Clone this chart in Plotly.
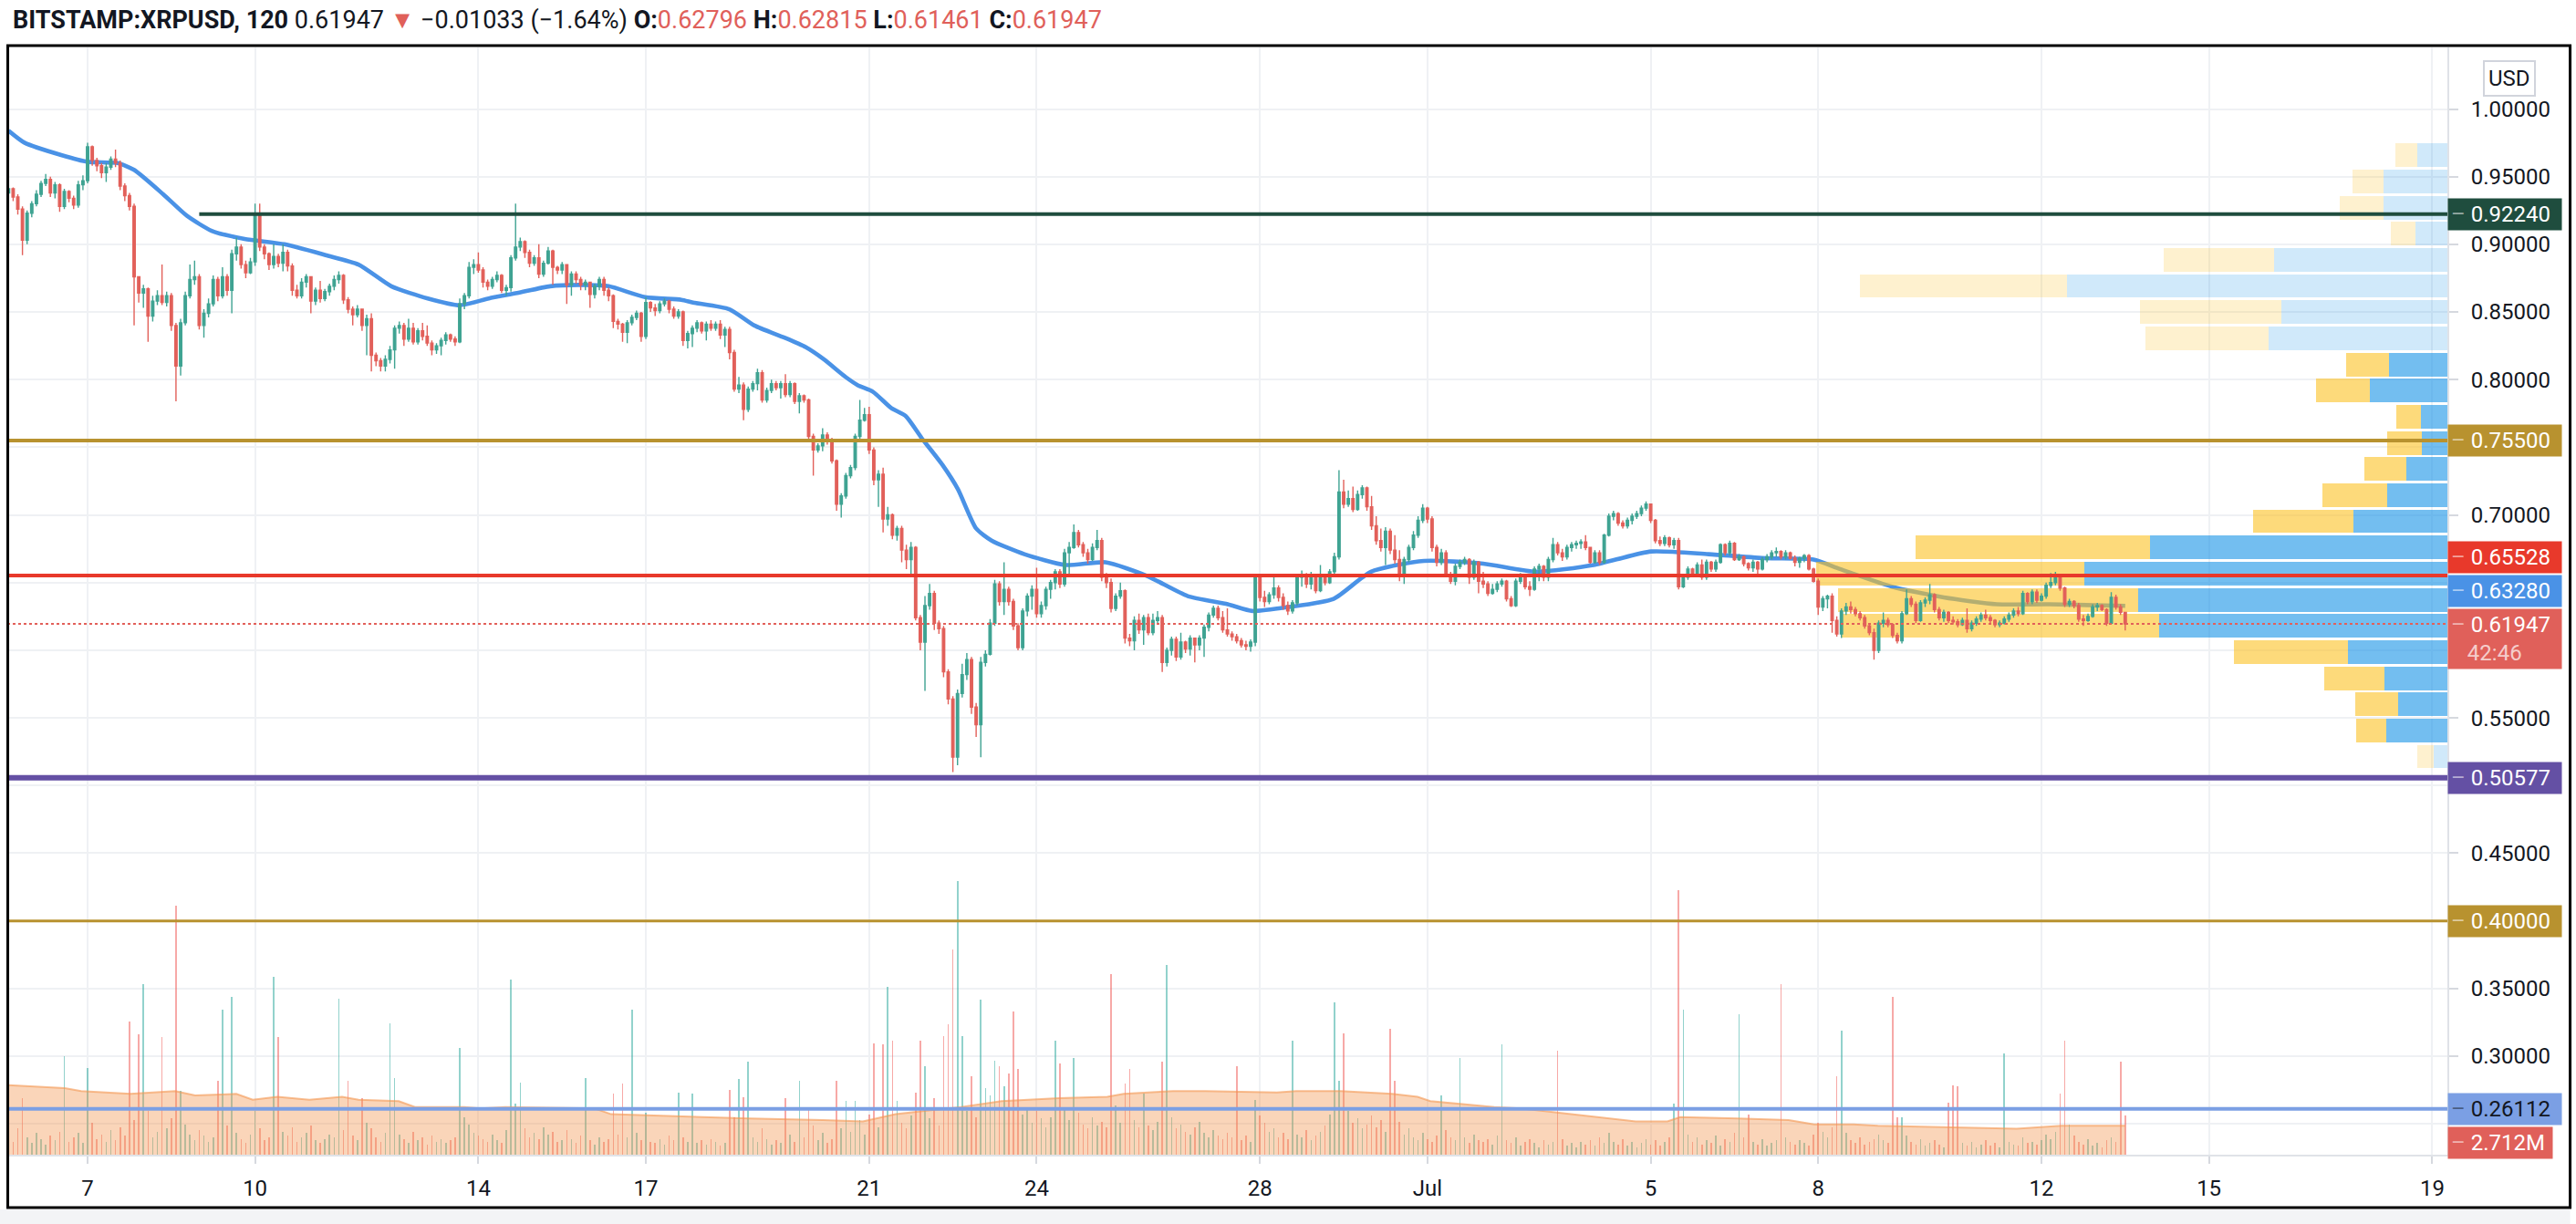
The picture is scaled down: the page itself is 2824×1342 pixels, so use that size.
import plotly.graph_objects as go
import pandas as pd

# ---------------- DATA ----------------
# 2-hour candles BITSTAMP:XRPUSD, first candle 2021-06-05 14:00 (prices in thousandths of USD)
first_open = 938
close_k = [
941,935,926,903,923,930,937,945,948,938,944,928,
939,934,929,944,947,972,962,958,953,957,963,960,
943,936,928,876,864,867,847,858,862,857,862,840,
810,842,862,874,876,840,849,856,874,862,876,866,
893,898,885,879,887,923,898,893,885,891,886,894,
884,866,862,872,876,858,866,860,865,869,874,877,
859,852,848,852,840,845,818,814,810,815,822,838,
840,830,838,828,836,832,827,822,825,829,833,830,
828,856,862,883,885,881,872,869,874,877,866,868,
890,898,902,894,886,890,878,886,895,883,881,885,
870,878,874,870,872,863,869,874,866,862,843,841,
835,842,846,849,832,857,853,851,856,858,852,847,
850,829,834,838,842,836,841,838,841,833,837,820,
793,796,778,793,797,805,785,792,797,794,797,789,
797,784,788,785,758,748,751,759,755,740,708,714,
729,735,758,770,774,748,726,730,697,700,685,690,
674,667,676,624,606,633,642,620,616,584,564,521,
568,582,593,558,545,591,597,620,649,636,645,636,
618,602,629,640,645,627,633,645,650,658,649,672,
676,687,678,672,667,676,681,654,650,631,640,644,
609,607,622,615,624,613,622,624,591,600,608,595,
606,601,609,604,609,617,626,631,624,615,612,610,
607,604,603,606,654,639,636,641,646,639,633,629,
635,654,656,649,654,644,654,650,658,669,717,708,
712,704,715,720,706,692,681,676,688,674,667,656,
667,676,685,696,705,697,676,665,672,656,651,662,
665,667,654,665,651,649,642,645,649,651,638,633,
651,655,647,645,660,662,654,667,678,672,669,676,
678,679,680,676,665,672,665,685,699,701,694,692,
696,699,701,705,708,696,681,679,683,678,681,647,
654,660,656,663,654,665,660,665,678,672,679,667,
669,664,661,665,660,667,669,672,673,669,672,668,
665,668,670,660,651,632,638,640,622,612,629,632,
630,627,624,618,613,600,620,622,619,611,607,627,
638,634,622,635,637,641,630,624,628,622,621,619,
622,616,620,623,626,624,622,619,620,623,626,629,
627,642,636,643,637,640,648,650,654,646,634,636,
633,623,622,625,632,633,630,620,639,632,628,619.47,
]
high_k = [
944,942,937,928,925,932,940,947,952,950,946,945,
941,940,936,947,951,975,973,964,960,960,965,970,
962,945,938,930,876,870,868,862,866,885,865,864,
842,845,865,885,888,878,852,860,877,876,883,878,
896,905,900,888,890,930,930,900,894,900,893,900,
896,886,870,875,878,874,868,873,867,871,877,880,
878,861,854,855,852,848,849,820,816,818,825,840,
843,842,845,842,838,842,840,829,827,831,835,834,
832,860,864,887,889,894,883,874,876,880,878,870,
892,930,905,903,896,892,900,888,898,896,884,887,
884,880,880,876,874,872,871,876,876,868,863,845,
842,844,848,851,850,861,858,856,858,860,859,854,
852,851,836,840,844,843,843,844,843,844,839,839,
822,802,798,795,799,808,807,794,800,799,799,804,
799,798,790,789,786,760,753,764,761,757,741,716,
731,737,760,785,779,780,750,733,735,706,701,692,
692,678,680,677,626,640,649,644,622,618,586,566,
571,590,598,595,561,595,600,623,652,651,665,647,
638,620,631,642,648,661,636,647,652,660,660,675,
680,693,689,680,675,679,689,683,657,653,642,650,
645,612,625,627,626,627,627,629,626,602,610,610,
613,607,611,609,611,619,628,633,633,629,631,614,
612,609,607,608,656,656,644,643,656,648,642,636,
637,656,659,657,658,656,663,655,660,672,733,726,
718,721,718,722,721,714,699,690,691,690,685,674,
669,678,688,699,708,706,699,678,675,674,658,664,
667,669,668,667,666,658,651,649,651,653,652,640,
653,657,656,651,662,664,663,669,683,680,675,678,
680,681,682,685,676,674,674,686,701,703,702,696,
698,701,703,707,710,708,697,684,685,684,683,683,
656,662,661,665,667,667,666,667,679,679,681,680,
671,670,665,667,666,669,671,674,676,674,674,673,
670,669,671,671,661,653,640,641,642,625,631,635,
636,632,629,626,620,616,622,628,624,620,613,629,
645,640,636,637,639,649,642,632,630,629,625,623,
624,631,622,625,628,630,626,623,622,625,628,631,
632,644,643,645,645,642,650,657,658,655,647,638,
637,635,626,627,634,635,634,631,643,641,634,628.15,
]
low_k = [
934,932,922,892,900,920,928,935,943,935,934,924,
926,931,926,927,940,945,958,954,949,946,955,957,
940,932,925,840,857,853,828,843,855,855,854,836,
784,803,840,860,870,837,831,846,854,858,860,862,
849,888,882,875,878,884,895,889,881,882,883,880,
880,862,860,860,868,849,855,857,858,862,866,871,
856,849,840,846,836,818,806,810,806,806,812,808,
834,825,828,826,826,829,825,818,819,818,826,828,
825,827,852,860,878,879,868,866,867,872,864,862,
865,888,895,890,883,884,875,876,885,870,878,878,
856,862,871,866,866,853,860,866,862,858,838,837,
828,827,840,844,828,830,850,847,849,854,849,845,
845,825,823,824,835,834,829,836,836,830,824,815,
791,790,770,776,791,792,783,783,790,792,786,787,
787,782,775,783,756,729,746,747,752,738,703,698,
712,727,733,756,769,745,722,706,687,692,682,681,
665,660,655,622,600,570,630,615,612,580,560,510,
515,565,578,553,536,521,588,596,618,633,626,633,
615,600,600,625,630,624,624,630,638,645,646,647,
656,675,676,669,664,666,674,651,646,628,629,638,
605,603,600,612,604,611,611,620,584,588,596,592,
593,598,596,591,600,595,614,624,622,613,610,607,
605,602,600,599,603,636,632,634,638,636,630,626,
627,633,647,646,645,642,643,648,649,655,667,705,
706,702,703,712,703,689,678,673,663,671,664,651,
649,665,674,683,694,694,673,662,663,654,649,648,
660,663,649,652,642,646,640,641,643,647,636,632,
632,649,645,640,644,651,651,651,665,670,666,667,
673,675,675,674,664,664,663,664,684,696,692,690,
690,693,697,699,703,694,679,677,677,676,675,645,
646,652,654,655,652,652,658,658,664,670,670,666,
666,662,659,658,654,659,665,667,669,667,667,667,
662,661,665,659,650,626,629,631,613,610,609,626,
627,625,622,616,611,593,598,617,617,609,605,605,
626,632,620,621,632,634,628,622,621,620,619,617,
618,613,614,618,621,622,620,617,617,619,621,624,
625,626,634,634,635,636,638,646,648,644,632,632,
631,621,618,621,624,629,629,618,619,630,626,614.61,
]
# volume per candle, tenths of a million XRP
vol_tenths_m = [
14,9,18,39,12,8,15,11,7,13,10,16,
68,9,12,15,8,60,22,11,14,9,17,10,
19,13,92,24,83,118,30,12,16,81,18,25,
172,44,21,14,10,17,13,9,12,51,100,20,
109,15,11,8,14,30,18,10,12,123,81,16,
13,19,9,12,15,20,10,8,11,14,12,108,
17,51,13,10,39,22,18,12,9,15,91,53,
14,11,8,16,10,12,7,13,9,11,8,10,
12,74,26,21,15,13,11,9,14,10,8,17,
121,35,50,18,12,15,11,19,14,16,9,10,
17,11,8,13,53,10,7,12,9,11,42,14,
49,12,100,15,10,29,9,8,11,7,13,10,
43,12,9,42,8,10,7,11,9,6,8,45,
26,52,40,64,12,9,18,11,7,10,8,39,
14,9,51,12,33,20,10,15,8,11,51,18,
37,16,37,24,14,28,77,19,76,116,79,37,
22,18,27,43,79,61,25,39,20,82,90,142,
189,82,30,54,26,107,46,41,65,61,47,56,
99,59,28,33,22,30,25,19,26,79,63,31,
24,67,29,21,18,26,20,23,19,125,34,22,
49,59,24,19,42,20,17,23,64,131,26,18,
21,16,14,19,23,15,12,17,13,11,15,12,
61,10,13,9,38,27,22,16,18,12,15,11,
79,14,12,17,10,13,16,20,28,105,51,84,
30,22,25,18,21,27,19,24,16,87,51,23,
14,18,12,10,15,11,9,13,41,17,12,10,
67,12,8,14,10,9,11,7,13,76,10,8,
12,6,9,11,8,5,10,7,9,72,11,6,
8,5,9,7,10,6,12,8,15,9,7,11,
6,9,5,8,11,7,10,6,9,12,35,183,
100,14,9,12,7,10,8,13,6,11,9,15,
97,12,28,9,7,11,6,8,10,118,12,9,
7,10,8,6,14,22,16,12,19,54,86,15,
10,8,12,7,9,11,14,10,8,109,26,26,
13,9,7,11,6,8,10,7,5,36,48,47,
8,6,9,5,7,10,6,8,5,70,9,7,
6,12,8,9,7,10,14,11,16,42,79,21,
13,9,7,11,6,8,5,10,12,9,64,27,
]
# 50-period moving average of price
ma_time = ["2021-06-05 14:00","2021-06-05 21:00","2021-06-06 12:40","2021-06-07 00:00","2021-06-07 13:00",
 "2021-06-07 20:00","2021-06-08 08:30","2021-06-08 18:45","2021-06-09 05:20","2021-06-09 19:30",
 "2021-06-10 12:40","2021-06-11 06:20","2021-06-11 20:30","2021-06-12 10:35","2021-06-13 02:15",
 "2021-06-13 16:00","2021-06-14 04:30","2021-06-14 16:40","2021-06-15 06:50","2021-06-15 19:00",
 "2021-06-16 08:00","2021-06-16 23:40","2021-06-17 15:15","2021-06-17 20:15","2021-06-18 11:55",
 "2021-06-18 22:40","2021-06-19 11:35","2021-06-19 20:40","2021-06-20 04:30","2021-06-20 13:50",
 "2021-06-20 19:00","2021-06-21 01:40","2021-06-21 09:30","2021-06-21 15:45","2021-06-21 22:30",
 "2021-06-22 07:30","2021-06-22 14:10","2021-06-22 22:00","2021-06-23 04:40","2021-06-23 18:45",
 "2021-06-24 12:20","2021-06-25 05:40","2021-06-25 23:20","2021-06-26 17:00","2021-06-27 10:10",
 "2021-06-27 20:50","2021-06-28 12:30","2021-06-29 07:40","2021-06-29 23:45","2021-06-30 22:30",
 "2021-07-02 00:00","2021-07-02 22:45","2021-07-03 23:25","2021-07-05 00:10","2021-07-06 00:50",
 "2021-07-07 01:35","2021-07-07 22:00","2021-07-08 09:20","2021-07-09 07:40","2021-07-10 06:00",
 "2021-07-11 04:45","2021-07-12 03:10","2021-07-13 12:00"]
ma_val = [0.984,0.975,0.966,0.961,0.960,0.955,0.937,0.921,0.910,0.904,
 0.900,0.892,0.885,0.869,0.860,0.855,0.860,0.864,0.869,0.870,
 0.869,0.861,0.859,0.857,0.852,0.840,0.831,0.824,0.815,0.802,
 0.796,0.791,0.779,0.773,0.757,0.737,0.719,0.690,0.681,0.671,
 0.663,0.665,0.655,0.640,0.634,0.629,0.632,0.638,0.658,0.666,
 0.664,0.658,0.663,0.673,0.671,0.668,0.667,0.660,0.647,0.639,
 0.634,0.634,0.6328]
# volume moving average (millions)
vma_time = ["2021-06-05 14:00","2021-06-06 14:10","2021-06-06 21:15","2021-06-07 18:25","2021-06-08 13:40",
 "2021-06-08 22:15","2021-06-09 15:55","2021-06-09 23:00","2021-06-10 09:35","2021-06-10 23:20",
 "2021-06-11 13:25","2021-06-11 20:30","2021-06-12 13:45","2021-06-12 20:45","2021-06-13 17:55",
 "2021-06-14 01:00","2021-06-14 11:35","2021-06-16 02:00","2021-06-16 09:05","2021-06-17 20:00",
 "2021-06-18 20:20","2021-06-20 04:05","2021-06-20 21:20","2021-06-21 11:25","2021-06-22 15:40",
 "2021-06-23 08:55","2021-06-24 09:40","2021-06-25 06:25","2021-06-25 13:30","2021-06-26 10:40",
 "2021-06-27 00:25","2021-06-28 07:20","2021-06-28 15:35","2021-06-29 10:50","2021-06-30 08:45",
 "2021-06-30 19:45","2021-07-01 01:15","2021-07-01 15:00","2021-07-02 04:40","2021-07-02 16:05",
 "2021-07-03 03:05","2021-07-04 01:00","2021-07-04 17:30","2021-07-05 07:10","2021-07-05 12:40",
 "2021-07-06 13:20","2021-07-07 11:15","2021-07-07 22:15","2021-07-08 14:45","2021-07-09 01:40",
 "2021-07-10 05:30","2021-07-11 13:20","2021-07-12 08:30","2021-07-13 12:00"]
vma_val = [4.8,4.6,4.4,4.2,4.4,4.1,4.2,3.8,4.0,3.8,4.0,3.8,3.7,3.3,3.3,3.2,3.3,3.2,2.8,2.6,
 2.5,2.4,2.3,2.8,3.3,3.7,3.9,4.0,4.2,4.4,4.4,4.3,4.4,4.4,4.2,4.0,3.7,3.5,3.3,3.2,
 3.0,2.6,2.3,2.3,2.6,2.5,2.4,2.1,2.1,2.0,1.9,1.8,2.0,2.0]
# Volume profile (visible range), rows bottom -> top
vp_mid = [0.5214,0.5407,0.5600,0.5793,0.5987,0.6180,0.6373,0.6566,0.6759,0.6953,0.7146,0.7339,
          0.7532,0.7726,0.7919,0.8112,0.8305,0.8499,0.8692,0.8885,0.9078,0.9271,0.9465,0.9658]
vp_up = [3.0,13.4,10.8,13.8,21.8,63.2,67.8,79.6,65.2,20.6,13.2,9.0,5.6,5.8,17.0,12.8,
         39.2,36.4,83.4,38.0,7.0,14.0,14.0,6.6]
vp_down = [3.6,6.6,9.4,13.2,25.0,69.6,65.8,58.8,51.4,22.0,14.2,9.2,7.6,5.4,11.8,9.4,
           27.0,31.0,45.4,24.2,5.4,9.6,6.8,4.8]
vp_value_area = [False]+[True]*15+[False]*8
# horizontal levels: (price, colour, label text colour)
levels = [(0.92240, "#1f4d3e", "white"), (0.75500, "#b8922f", "white"), (0.65528, "#e8392b", "white"),
          (0.50577, "#6450a4", "white"), (0.40000, "#b8922f", "white"), (0.26112, "#7b9fe4", "#131722")]
level_width = [4, 4, 4, 6, 3, 4]
green_level_start = "2021-06-09 00:00"
last_price = 0.61947
ma_last = 0.63280
last_volume_m = 2.712
countdown = "42:46"
date_ticks = ["2021-06-07","2021-06-10","2021-06-14","2021-06-17","2021-06-21","2021-06-24","2021-06-28",
              "2021-07-01","2021-07-05","2021-07-08","2021-07-12","2021-07-15","2021-07-19"]
date_labels = ["7","10","14","17","21","24","28","Jul","5","8","12","15","19"]
price_grid = [0.25,0.30,0.35,0.40,0.45,0.50,0.55,0.60,0.65,0.70,0.75,0.80,0.85,0.90,0.95,1.00]
price_hidden = {0.25,0.40,0.50,0.60,0.65,0.75}

# ---------------- BUILD ----------------
n = len(close_k)
assert n == len(high_k) == len(low_k) == len(vol_tenths_m) == 456
times = pd.date_range("2021-06-05 14:00", periods=n, freq="2h")
close = [v / 1000 for v in close_k]
high = [v / 1000 for v in high_k]
low = [v / 1000 for v in low_k]
open_ = [first_open / 1000] + close[:-1]
vol = [v / 10 for v in vol_tenths_m]

UP = "#3fa392"
DOWN = "#e2605a"
FONT = "Roboto"
TXT = "#131722"

fig = go.Figure()
# MA (bottom layer)
fig.add_trace(go.Scatter(x=ma_time, y=ma_val, mode="lines", xaxis="x", yaxis="y",
                         line=dict(color="#4a92e6", width=4.6, shape="spline", smoothing=0.6),
                         hoverinfo="skip", showlegend=False))
# volume
vcol = ["rgba(38,166,154,0.5)" if c >= o else "rgba(239,83,80,0.5)" for o, c in zip(open_, close)]
fig.add_trace(go.Bar(x=times, y=vol, marker=dict(color=vcol, line=dict(width=0)), width=2.3e6,
                     xaxis="x", yaxis="y3", hoverinfo="skip", showlegend=False))
fig.add_trace(go.Scatter(x=vma_time, y=vma_val, mode="lines", fill="tozeroy", xaxis="x", yaxis="y3",
                         fillcolor="rgba(243,150,80,0.4)", line=dict(color="rgba(243,150,80,0.6)", width=2),
                         hoverinfo="skip", showlegend=False))
# volume profile
up_cols = ["rgba(21,146,230,0.6)" if va else "rgba(21,146,230,0.2)" for va in vp_value_area]
dn_cols = ["rgba(251,193,35,0.6)" if va else "rgba(251,193,35,0.22)" for va in vp_value_area]
fig.add_trace(go.Bar(orientation="h", y=vp_mid, x=vp_up, base=[0] * len(vp_up), width=0.0174,
                     marker=dict(color=up_cols, line=dict(width=0)), xaxis="x2", yaxis="y",
                     hoverinfo="skip", showlegend=False))
fig.add_trace(go.Bar(orientation="h", y=vp_mid, x=vp_down, base=vp_up, width=0.0174,
                     marker=dict(color=dn_cols, line=dict(width=0)), xaxis="x2", yaxis="y",
                     hoverinfo="skip", showlegend=False))
# candles
fig.add_trace(go.Candlestick(x=times, open=open_, high=high, low=low, close=close,
                             xaxis="x3", yaxis="y", whiskerwidth=0,
                             increasing=dict(line=dict(color=UP, width=1.4), fillcolor=UP),
                             decreasing=dict(line=dict(color=DOWN, width=1.4), fillcolor=DOWN),
                             hoverinfo="skip", showlegend=False))

xr = ["2021-06-05 13:29", "2021-07-19 06:30"]
shapes = []
for (p, col, _), w in zip(levels, level_width):
    if p == 0.92240:
        shapes.append(dict(type="line", xref="x", yref="y", x0=green_level_start, x1=xr[1], y0=p, y1=p,
                           line=dict(color=col, width=w)))
    else:
        shapes.append(dict(type="line", xref="paper", yref="y", x0=0, x1=1, y0=p, y1=p,
                           line=dict(color=col, width=w)))
shapes.append(dict(type="line", xref="paper", yref="y", x0=0, x1=1, y0=last_price, y1=last_price,
                   line=dict(color=DOWN, width=2, dash="dot")))
# chart frame and bottom strip
shapes.append(dict(type="rect", xref="paper", yref="paper", x0=-0.0066, x1=1.0503, y0=-0.0626, y1=-0.0494,
                   fillcolor="#f3f4f6", line=dict(width=0), layer="below"))
shapes.append(dict(type="rect", xref="paper", yref="paper", x0=0.0002, x1=1.0503, y0=-0.0478, y1=1.0017,
                   line=dict(color="black", width=3), fillcolor="rgba(0,0,0,0)"))

ann = []
red_txt = "#e0605a"
title = ("<b>BITSTAMP:XRPUSD, 120</b> 0.61947 <span style='color:%s'>▼</span> −0.01033 (−1.64%%) "
         "<b>O:</b><span style='color:%s'>0.62796</span> <b>H:</b><span style='color:%s'>0.62815</span> "
         "<b>L:</b><span style='color:%s'>0.61461</span> <b>C:</b><span style='color:%s'>0.61947</span>"
         % (red_txt, red_txt, red_txt, red_txt, red_txt))
ann.append(dict(xref="paper", yref="paper", x=0.0015, y=1.0247, xanchor="left", yanchor="middle",
                text=title, showarrow=False, font=dict(family=FONT, size=27, color=TXT)))

def box(y, text, bg, fg, yref="y", yshift=0, yanchor="middle", width=118):
    return dict(xref="paper", yref=yref, x=1, y=y, xanchor="left", yanchor=yanchor, yshift=yshift,
                text=text, showarrow=False, align="left", width=width, bgcolor=bg, borderpad=3,
                font=dict(family=FONT, size=24, color=fg))

dash = "<span style='color:rgba(255,255,255,0.55)'>–</span> "
for (p, col, fg), w in zip(levels, level_width):
    sh = 19.5 if p == 0.65528 else 0
    d = dash if fg == "white" else "<span style='color:rgba(19,23,34,0.5)'>–</span> "
    ann.append(box(p, d + "%.5f" % p, col, fg, yshift=sh))
ann.append(box(ma_last, dash + "%.5f" % ma_last, "#4a92e6", "white", yshift=16))
ann.append(box(last_price, dash + "%.5f<br>&nbsp;&nbsp;&nbsp;<span style='color:rgba(255,255,255,0.7)'>%s</span>"
               % (last_price, countdown), "#e0605a", "white", yanchor="top", yshift=17))
ann.append(box(last_volume_m, dash + "%.3fM" % last_volume_m, "#e0605a", "white", yref="y3", yshift=-30, width=108))
ann.append(dict(xref="paper", yref="paper", x=1.0146, y=0.9724, xanchor="left", yanchor="middle",
                text="USD", showarrow=False, bordercolor="#d1d4dc", borderwidth=2, borderpad=4,
                font=dict(family=FONT, size=24, color=TXT)))

ticktext = ["" if v in price_hidden else "%.5f" % v for v in price_grid]

fig.update_layout(
    width=2824, height=1342, autosize=False,
    margin=dict(l=8, r=141, t=52, b=76, pad=0),
    paper_bgcolor="white", plot_bgcolor="white",
    barmode="overlay", bargap=0, hovermode=False, showlegend=False,
    font=dict(family=FONT, color=TXT),
    xaxis=dict(type="date", range=xr, tickvals=date_ticks, ticktext=date_labels,
               showgrid=True, gridcolor="#eff1f4", gridwidth=2, zeroline=False,
               ticks="outside", ticklen=8, tickwidth=2, tickcolor="#d6d9df",
               showline=True, linecolor="#e0e3e8", linewidth=2,
               tickfont=dict(family=FONT, size=24, color=TXT), ticklabelstandoff=6,
               rangeslider=dict(visible=False), fixedrange=True),
    xaxis2=dict(overlaying="x", range=[535, 0], visible=False, fixedrange=True),
    xaxis3=dict(overlaying="x", type="date", range=xr, visible=False,
                rangeslider=dict(visible=False), fixedrange=True),
    yaxis=dict(side="right", range=[0.2272, 1.0455], tickvals=price_grid, ticktext=ticktext,
               showgrid=True, gridcolor="#eff1f4", gridwidth=2, zeroline=False,
               ticks="outside", ticklen=10, tickwidth=2, tickcolor="#d6d9df",
               showline=True, linecolor="#dfe2e7", linewidth=2,
               tickfont=dict(family=FONT, size=24, color=TXT), ticklabelstandoff=9, fixedrange=True),
    yaxis3=dict(overlaying="y", range=[0, 76.5], visible=False, fixedrange=True),
    shapes=shapes, annotations=ann,
)

fig.write_html("out.html", config={"displayModeBar": False},
               post_script="document.body.style.margin='0';document.body.style.overflow='hidden';")
